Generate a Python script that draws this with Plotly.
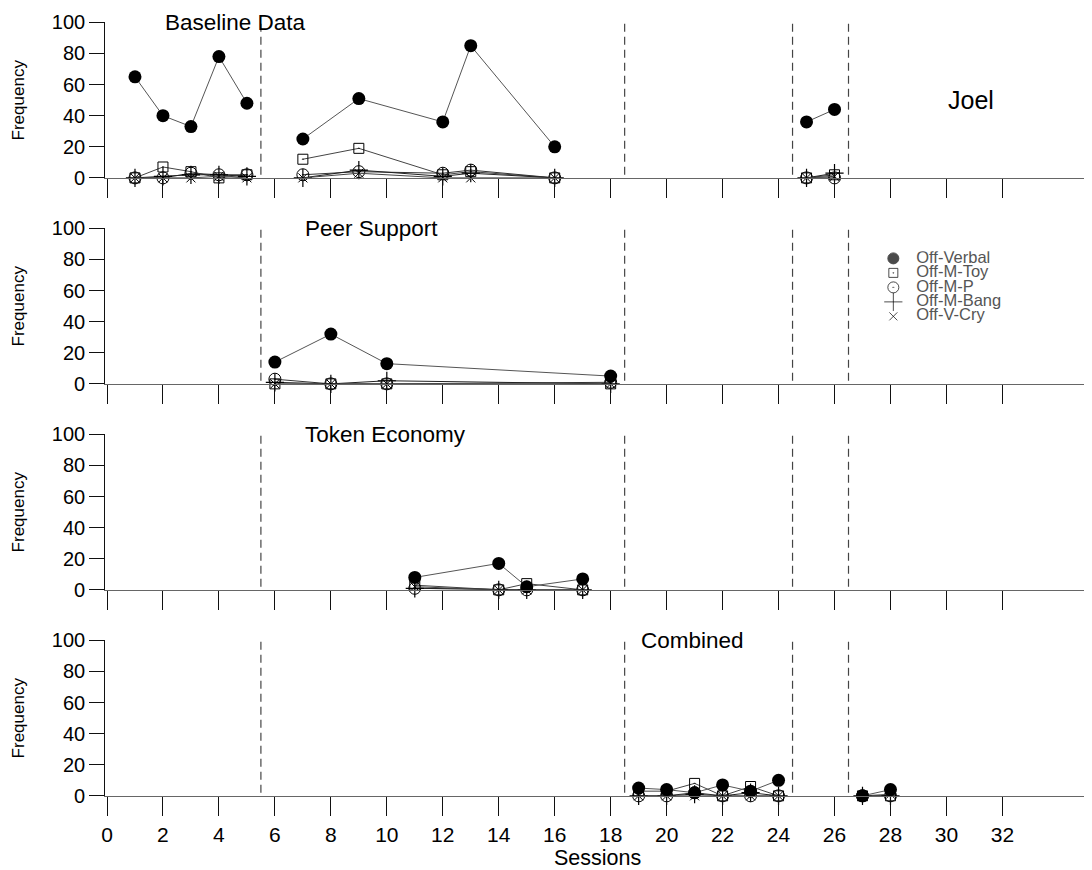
import plotly.graph_objects as go

W, H = 1092, 870

# ---------------- data ----------------
series_names = ["Off-Verbal", "Off-M-Toy", "Off-M-P", "Off-M-Bang", "Off-V-Cry"]
panel_titles = ["Baseline Data", "Peer Support", "Token Economy", "Combined"]
phase_lines = [5.5, 18.5, 24.5, 26.5]
x_ticks = list(range(0, 33, 2))
y_ticks = [0, 20, 40, 60, 80, 100]
participant = "Joel"

baseline_sessions = [1, 2, 3, 4, 5, None, 7, 9, 12, 13, 16, None, 25, 26]
baseline_verbal = [65, 40, 33, 78, 48, None, 25, 51, 36, 85, 20, None, 36, 44]
baseline_toy = [0, 7, 4, 0, 2, None, 12, 19, 2, 4, 0, None, 0, 2]
baseline_p = [0, 0, 3, 2, 2, None, 2, 4, 3, 5, 0, None, 0, 0]
baseline_bang = [0, 1, 2, 2, 1, None, 0, 5, 1, 3, 0, None, 0, 3]
baseline_cry = [0, 0, 0, 1, 0, None, 0, 3, 0, 0, 0, None, 0, 1]

peer_sessions = [6, 8, 10, 18]
peer_verbal = [14, 32, 13, 5]
peer_toy = [0, 0, 0, 0]
peer_p = [3, 0, 0, 1]
peer_bang = [1, 0, 2, 0]
peer_cry = [0, 0, 0, 0]

token_sessions = [11, 14, 15, 17]
token_verbal = [8, 17, 2, 7]
token_toy = [3, 0, 4, 0]
token_p = [1, 0, 0, 0]
token_bang = [1, 0, 0, 0]
token_cry = [2, 0, 0, 0]

combined_sessions = [19, 20, 21, 22, 23, 24, None, 27, 28]
combined_verbal = [5, 4, 2, 7, 3, 10, None, 0, 4]
combined_toy = [3, 3, 8, 0, 6, 0, None, 0, 0]
combined_p = [0, 0, 2, 0, 0, 0, None, 0, 0]
combined_bang = [0, 0, 1, 0, 2, 0, None, 0, 0]
combined_cry = [0, 0, 0, 0, 0, 0, None, 0, 1]

panels = [
    (baseline_sessions, [baseline_verbal, baseline_toy, baseline_p, baseline_bang, baseline_cry]),
    (peer_sessions, [peer_verbal, peer_toy, peer_p, peer_bang, peer_cry]),
    (token_sessions, [token_verbal, token_toy, token_p, token_bang, token_cry]),
    (combined_sessions, [combined_verbal, combined_toy, combined_p, combined_bang, combined_cry]),
]

# ---------------- styles ----------------
FONT = "Liberation Sans, Arial, Helvetica, sans-serif"
styles = {
    "Off-Verbal": dict(symbol="circle", size=13, color="black", lw=0, linecolor="#555555"),
    "Off-M-Toy": dict(symbol="square-open-dot", size=10, color="black", lw=1, linecolor="#444444"),
    "Off-M-P": dict(symbol="circle-open-dot", size=12, color="black", lw=1, linecolor="#333333"),
    "Off-M-Bang": dict(symbol="cross-thin-open", size=13, color="black", lw=1.2, linecolor="#222222"),
    "Off-V-Cry": dict(symbol="x-thin-open", size=9, color="black", lw=1, linecolor="#444444"),
}
draw_order = ["Off-M-Toy", "Off-M-P", "Off-M-Bang", "Off-V-Cry", "Off-Verbal"]


# screen-pixel targets -> figure pixels (compensates page offset/scaling seen in render)
def fx(t):
    return (t - 11.7) / 0.9963


def fy(t):
    return (t - 18.6) / 0.9748


def px_x(p):
    return p / W


def px_y(p):
    return 1 - p / H


x_left_px = fx(105)
x0_px = fx(106.7)
ppu = 27.98 / 0.9963
x_range = [(x_left_px - x0_px) / ppu, (W - x0_px) / ppu]

panel_top_px = [fy(22 + 206 * i) for i in range(4)]
panel_h_px = 155.5 / 0.9748

fig = go.Figure()

for i, (sess, vals) in enumerate(panels):
    ax = "" if i == 0 else str(i + 1)
    for name in draw_order:
        st = styles[name]
        y = vals[series_names.index(name)]
        fig.add_trace(go.Scatter(
            x=sess, y=y, mode="lines+markers", name=name, showlegend=False,
            xaxis="x" + ax, yaxis="y" + ax, connectgaps=False, cliponaxis=False,
            line=dict(color=st["linecolor"], width=1),
            marker=dict(symbol=st["symbol"], size=st["size"], color=st["color"],
                        line=dict(width=st["lw"], color="black")),
        ))
    top = panel_top_px[i]
    bottom = top + panel_h_px
    last = i == 3
    fig.layout["xaxis" + ax] = dict(
        domain=[px_x(x_left_px), 1.0], anchor="y" + ax, range=x_range,
        showline=True, linecolor="#666666", linewidth=1.2,
        tickmode="array", tickvals=x_ticks, ticks="outside", ticklen=19.5,
        tickcolor="#111111", tickwidth=1.2,
        showticklabels=last, showgrid=False, zeroline=False,
        tickfont=dict(family=FONT, size=21, color="black"),
    )
    fig.layout["yaxis" + ax] = dict(
        domain=[px_y(bottom), px_y(top)], anchor="x" + ax, range=[0, 100],
        showline=True, linecolor="#111111", linewidth=1.2,
        tickmode="array", tickvals=y_ticks, ticks="outside", ticklen=15,
        tickcolor="#111111", tickwidth=1.2, showgrid=False, zeroline=False,
        tickfont=dict(family=FONT, size=20, color="black"),
    )
    for xv in phase_lines:
        fig.add_shape(type="line", xref="x" + ax, yref="y" + ax, x0=xv, x1=xv, y0=2, y1=100,
                      line=dict(color="#444444", width=1.2, dash="8px,5px"))
    # y-axis title
    fig.add_annotation(text="Frequency", xref="paper", yref="paper", x=px_x(fx(18)),
                       y=px_y(top + panel_h_px / 2), textangle=-90, showarrow=False,
                       xanchor="center", yanchor="middle",
                       font=dict(family=FONT, size=17, color="black"))

# panel titles
title_pos = [(2, 100), (7, 100), (7, 100), (19, 100)]
for i, (t, (tx, ty)) in enumerate(zip(panel_titles, title_pos)):
    ax = "" if i == 0 else str(i + 1)
    fig.add_annotation(text=t, xref="x" + ax, yref="y" + ax, x=tx, y=ty, showarrow=False,
                       xanchor="left", yanchor="middle",
                       font=dict(family=FONT, size=22.5, color="black"))

fig.add_annotation(text=participant, xref="x", yref="y", x=30, y=50, showarrow=False,
                   xanchor="left", yanchor="middle", font=dict(family=FONT, size=25, color="black"))

fig.add_annotation(text="Sessions", xref="paper", yref="paper", x=px_x(fx(597)), y=px_y(fy(858)),
                   showarrow=False, xanchor="center", yanchor="middle",
                   font=dict(family=FONT, size=21.5, color="black"))

# legend built on a small hidden axis pair
leg_rows = list(range(len(series_names)))
fig.add_trace(go.Scatter(
    x=[0] * len(series_names), y=leg_rows, mode="markers", showlegend=False,
    xaxis="x5", yaxis="y5", hoverinfo="skip",
    marker=dict(symbol=["circle", "square-open-dot", "circle-open-dot", "cross-thin-open", "x-thin-open"],
                size=[11, 9, 11, 13, 8], color="black", line=dict(width=1, color="black")),
))
fig.add_trace(go.Scatter(
    x=[23] * len(series_names), y=leg_rows, mode="text", text=series_names,
    textposition="middle right", showlegend=False, xaxis="x5", yaxis="y5", hoverinfo="skip",
    textfont=dict(family=FONT, size=16.5, color="#555555"),
))
leg_row_h = 14.5 / 0.9748
leg_top = fy(258) - leg_row_h / 2
leg_x0 = fx(893)
fig.layout["xaxis5"] = dict(domain=[px_x(leg_x0 - 25), px_x(leg_x0 + 175)], range=[-25, 175],
                            visible=False, anchor="y5", fixedrange=True)
fig.layout["yaxis5"] = dict(domain=[px_y(leg_top + leg_row_h * 5), px_y(leg_top)],
                            range=[4.5, -0.5], visible=False, anchor="x5", fixedrange=True)

fig.update_layout(
    width=W, height=H, margin=dict(l=0, r=0, t=0, b=0),
    plot_bgcolor="white", paper_bgcolor="white", showlegend=False,
    font=dict(family=FONT, color="black"),
)

fig.write_html("out.html")
